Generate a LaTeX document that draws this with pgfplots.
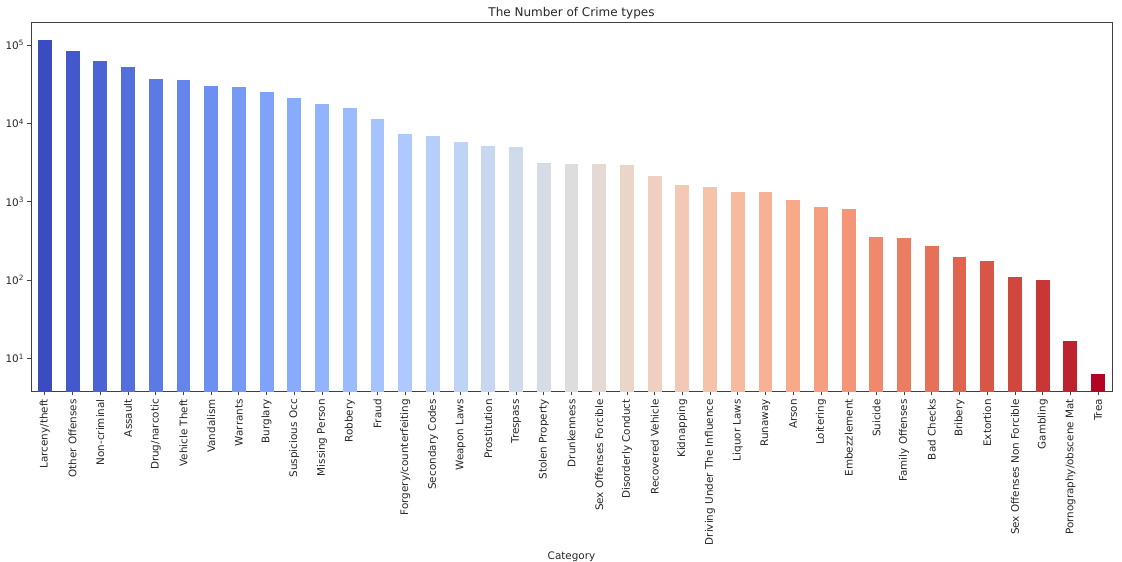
\documentclass[border=0pt]{standalone}
\usepackage{pgfplots}
\pgfplotsset{compat=1.18}
\usepackage{fontspec}
\setmainfont{DejaVu Sans}
\definecolor{c0}{RGB}{59,76,192}
\definecolor{c1}{RGB}{67,88,202}
\definecolor{c2}{RGB}{74,100,212}
\definecolor{c3}{RGB}{82,111,220}
\definecolor{c4}{RGB}{91,122,228}
\definecolor{c5}{RGB}{100,133,235}
\definecolor{c6}{RGB}{109,143,241}
\definecolor{c7}{RGB}{118,153,246}
\definecolor{c8}{RGB}{127,162,250}
\definecolor{c9}{RGB}{136,171,253}
\definecolor{c10}{RGB}{146,180,254}
\definecolor{c11}{RGB}{155,187,255}
\definecolor{c12}{RGB}{164,195,255}
\definecolor{c13}{RGB}{173,201,253}
\definecolor{c14}{RGB}{182,207,250}
\definecolor{c15}{RGB}{190,211,246}
\definecolor{c16}{RGB}{199,215,241}
\definecolor{c17}{RGB}{207,218,235}
\definecolor{c18}{RGB}{214,219,229}
\definecolor{c19}{RGB}{221,221,221}
\definecolor{c20}{RGB}{228,217,211}
\definecolor{c21}{RGB}{234,213,201}
\definecolor{c22}{RGB}{239,207,191}
\definecolor{c23}{RGB}{242,201,181}
\definecolor{c24}{RGB}{245,194,170}
\definecolor{c25}{RGB}{247,186,159}
\definecolor{c26}{RGB}{247,178,149}
\definecolor{c27}{RGB}{247,169,138}
\definecolor{c28}{RGB}{245,159,128}
\definecolor{c29}{RGB}{243,149,118}
\definecolor{c30}{RGB}{240,137,108}
\definecolor{c31}{RGB}{235,125,98}
\definecolor{c32}{RGB}{229,113,89}
\definecolor{c33}{RGB}{224,99,79}
\definecolor{c34}{RGB}{216,86,70}
\definecolor{c35}{RGB}{208,71,61}
\definecolor{c36}{RGB}{200,55,53}
\definecolor{c37}{RGB}{190,34,46}
\definecolor{c38}{RGB}{180,4,38}
\begin{document}
\begin{tikzpicture}
\begin{axis}[
  name=ax,
  scale only axis,
  width=1081pt, height=369pt,
  xmin=-0.5, xmax=38.5,
  ymode=log, log basis y=10,
  ymin=3.74, ymax=193000,
  log origin y=infty,
  axis line style={black!75, line width=0.8pt},
  tick align=outside,
  xtick pos=bottom, ytick pos=left,
  major tick length=3.5pt, minor tick length=2pt,
  tick style={black!75, line width=0.8pt},
  minor tick style={line width=0.6pt},
  xtick={0,...,38},
  xticklabels={Larceny/theft,Other Offenses,Non-criminal,Assault,Drug/narcotic,Vehicle Theft,Vandalism,Warrants,Burglary,Suspicious Occ,Missing Person,Robbery,Fraud,Forgery/counterfeiting,Secondary Codes,Weapon Laws,Prostitution,Trespass,Stolen Property,Drunkenness,Sex Offenses Forcible,Disorderly Conduct,Recovered Vehicle,Kidnapping,Driving Under The Influence,Liquor Laws,Runaway,Arson,Loitering,Embezzlement,Suicide,Family Offenses,Bad Checks,Bribery,Extortion,Sex Offenses Non Forcible,Gambling,Pornography/obscene Mat,Trea},
  xticklabel style={rotate=90, anchor=east, font=\fontsize{10.4}{12}\selectfont, text=black!85, xshift=-0.5pt},
  ytick={10,100,1000,10000,100000},
  yticklabels={10\textsuperscript{1},10\textsuperscript{2},10\textsuperscript{3},10\textsuperscript{4},10\textsuperscript{5}},
  yticklabel style={font=\fontsize{10.4}{12}\selectfont, text=black!85},
  xlabel={Category},
  xlabel style={font=\fontsize{10.4}{12}\selectfont, text=black!85},
  title={The Number of Crime types},
  title style={font=\fontsize{12}{14}\selectfont, text=black!85, yshift=-5.5pt},
  every axis plot/.append style={ybar, bar width=0.5, bar shift=0pt, draw=none},
]
\addplot[fill=c0] coordinates {(0,116000)};
\addplot[fill=c1] coordinates {(1,84600)};
\addplot[fill=c2] coordinates {(2,62500)};
\addplot[fill=c3] coordinates {(3,52400)};
\addplot[fill=c4] coordinates {(4,36800)};
\addplot[fill=c5] coordinates {(5,36000)};
\addplot[fill=c6] coordinates {(6,30200)};
\addplot[fill=c7] coordinates {(7,28800)};
\addplot[fill=c8] coordinates {(8,24900)};
\addplot[fill=c9] coordinates {(9,21200)};
\addplot[fill=c10] coordinates {(10,17800)};
\addplot[fill=c11] coordinates {(11,15500)};
\addplot[fill=c12] coordinates {(12,11350)};
\addplot[fill=c13] coordinates {(13,7300)};
\addplot[fill=c14] coordinates {(14,6820)};
\addplot[fill=c15] coordinates {(15,5830)};
\addplot[fill=c16] coordinates {(16,5130)};
\addplot[fill=c17] coordinates {(17,5030)};
\addplot[fill=c18] coordinates {(18,3080)};
\addplot[fill=c19] coordinates {(19,3050)};
\addplot[fill=c20] coordinates {(20,3050)};
\addplot[fill=c21] coordinates {(21,2960)};
\addplot[fill=c22] coordinates {(22,2120)};
\addplot[fill=c23] coordinates {(23,1610)};
\addplot[fill=c24] coordinates {(24,1540)};
\addplot[fill=c25] coordinates {(25,1330)};
\addplot[fill=c26] coordinates {(26,1320)};
\addplot[fill=c27] coordinates {(27,1040)};
\addplot[fill=c28] coordinates {(28,853)};
\addplot[fill=c29] coordinates {(29,817)};
\addplot[fill=c30] coordinates {(30,357)};
\addplot[fill=c31] coordinates {(31,344)};
\addplot[fill=c32] coordinates {(32,274)};
\addplot[fill=c33] coordinates {(33,199)};
\addplot[fill=c34] coordinates {(34,173)};
\addplot[fill=c35] coordinates {(35,108)};
\addplot[fill=c36] coordinates {(36,100)};
\addplot[fill=c37] coordinates {(37,16.6)};
\addplot[fill=c38] coordinates {(38,6.3)};
\end{axis}
\pgfresetboundingbox
\path (ax.south west) ++(-31pt,-170.3pt) rectangle ++(1122pt,562pt);
\end{tikzpicture}
\end{document}
